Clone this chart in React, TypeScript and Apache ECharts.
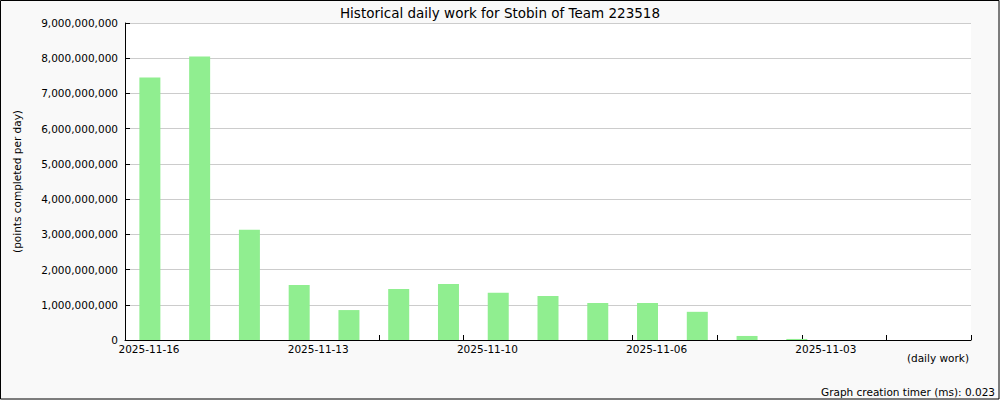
import React, { useEffect, useRef } from "react";
import * as echarts from "echarts";

const titleText = "Historical daily work for Stobin of Team 223518";
const yAxisName = "(points completed per day)";
const xAxisName = "(daily work)";
const timerText = "Graph creation timer (ms): 0.023";

// 17 bars (left = newest)
const categories = [
  "d1", "d2", "d3", "d4", "d5", "d6", "d7", "d8", "d9",
  "d10", "d11", "d12", "d13", "d14", "d15", "d16", "d17",
];
const dailyPoints = [
  7450000000, 8050000000, 3130000000, 1560000000, 850000000,
  1450000000, 1590000000, 1340000000, 1250000000, 1050000000,
  1050000000, 800000000, 115000000, 30000000, 0, 0, 0,
];
const dateLabels = ["2025-11-16", "2025-11-13", "2025-11-10", "2025-11-06", "2025-11-03"];
const tickCount = 10;

const FONT = "DejaVu Sans";

export default function App() {
  const ref = useRef<HTMLDivElement>(null);
  useEffect(() => {
    document.body.style.margin = "0";
    if (!ref.current) return;
    const chart = echarts.init(ref.current, undefined, { renderer: "svg" });
    const labelOffset = 0.284;
    const labelPositions = dateLabels.map((_, i) => i * 2 + labelOffset);
    const tickPositions = Array.from({ length: tickCount + 1 }, (_, i) => i);
    chart.setOption({
      animation: false,
      backgroundColor: "#f9f9f9",
      textStyle: { fontFamily: FONT },
      title: {
        text: titleText,
        left: "center",
        top: 1,
        textStyle: { fontFamily: FONT, fontSize: 13.5, fontWeight: "normal", color: "#000" },
      },
      grid: {
        left: 125,
        right: 29,
        top: 23,
        bottom: 60,
        show: true,
        backgroundColor: "#ffffff",
        borderWidth: 0,
      },
      xAxis: [
        {
          type: "category",
          data: categories,
          boundaryGap: true,
          axisLine: { show: false },
          axisTick: { show: false },
          axisLabel: { show: false },
          splitLine: { show: false },
        },
        {
          type: "value",
          min: 0,
          max: tickCount,
          interval: 1,
          position: "bottom",
          axisLine: { show: true, onZero: false, lineStyle: { color: "#000", width: 1 } },
          axisTick: {
            show: true,
            inside: true,
            length: 5,
            lineStyle: { color: "#000" },
            customValues: tickPositions,
          },
          axisLabel: {
            show: true,
            customValues: labelPositions,
            margin: 3,
            fontFamily: FONT,
            fontSize: 10.5,
            color: "#000",
            formatter: (v: number) => dateLabels[Math.round((v - labelOffset) / 2)] ?? "",
          },
          splitLine: { show: false },
        },
      ],
      yAxis: {
        type: "value",
        min: 0,
        max: 9000000000,
        interval: 1000000000,
        name: yAxisName,
        nameLocation: "middle",
        nameRotate: 90,
        nameGap: 103,
        nameTextStyle: { fontFamily: FONT, fontSize: 10.5, color: "#000" },
        axisLine: { show: true, lineStyle: { color: "#000", width: 1 } },
        axisTick: { show: true, inside: true, length: 5, lineStyle: { color: "#000" } },
        axisLabel: {
          margin: 7,
          fontFamily: FONT,
          fontSize: 10.5,
          color: "#000",
          formatter: (v: number) => v.toLocaleString("en-US"),
        },
        splitLine: { show: true, lineStyle: { color: "#cccccc", width: 1 } },
      },
      series: [
        {
          type: "bar",
          xAxisIndex: 0,
          data: dailyPoints,
          barWidth: 21,
          itemStyle: { color: "#90ee90" },
        },
      ],
      graphic: [
        {
          type: "text",
          right: 31,
          top: 352,
          style: { text: xAxisName, font: `10.5px "${FONT}"`, fill: "#000" },
        },
        {
          type: "text",
          right: 5,
          top: 386,
          style: { text: timerText, font: `10.5px "${FONT}"`, fill: "#000" },
        },
        {
          type: "rect",
          shape: { x: 0.5, y: 0.5, width: 998.5, height: 398.5 },
          style: { fill: "none", stroke: "#000", lineWidth: 1 },
          silent: true,
          z: 100,
        },
      ],
    });
    return () => chart.dispose();
  }, []);
  return <div ref={ref} style={{ width: 1000, height: 400 }} />;
}
